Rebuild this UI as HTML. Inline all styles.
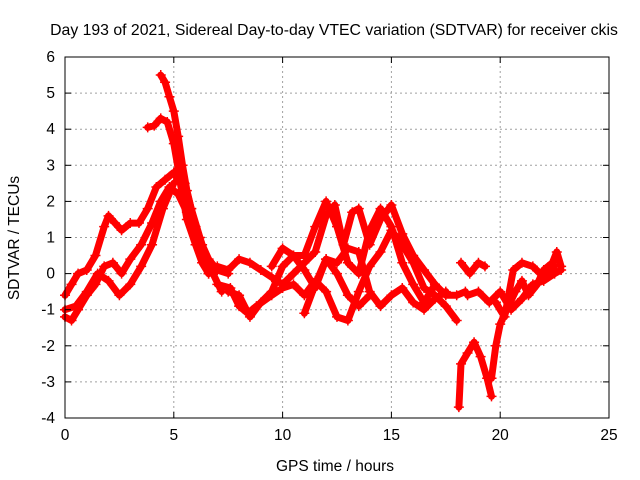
<!DOCTYPE html>
<html><head><meta charset="utf-8"><style>
body{margin:0;background:#fff;}
svg{display:block;font-family:"Liberation Sans",sans-serif;}
</style></head><body>
<svg id="chart" width="640" height="480">
<rect x="0" y="0" width="640" height="480" fill="#fff"/>
<g id="grid"></g>
<g id="series"></g>
<rect x="65" y="57" width="544" height="361" fill="none" stroke="#000" stroke-width="1"/>
<g id="axes"></g>
<text x="334" y="35" text-anchor="middle" font-size="15.8" fill="#000">Day 193 of 2021, Sidereal Day-to-day VTEC variation (SDTVAR) for receiver ckis</text>
<text x="335" y="471" text-anchor="middle" font-size="15.5" fill="#000">GPS time / hours</text>
<text x="19" y="238" text-anchor="middle" font-size="15.5" fill="#000" transform="rotate(-90 19 238)">SDTVAR / TECUs</text>
</svg>
<script>
const xTicks=[0,5,10,15,20,25];
const yTicks=[-4,-3,-2,-1,0,1,2,3,4,5,6];
const trackA=[[4.4,5.5],[4.6,5.3],[4.8,4.9],[5.0,4.5],[5.2,3.8],[5.4,3.0],[5.6,2.3],[5.8,1.8],[6.0,1.3],[6.3,0.8],[6.6,0.4],[7.0,0.1],[7.5,0.0]];
const trackB=[[3.8,4.05],[4.1,4.1],[4.4,4.3],[4.7,4.2],[5.0,3.6],[5.2,2.9],[5.5,2.5],[5.8,1.8],[6.2,1.0],[6.5,0.4],[6.8,0.0],[7.2,-0.5]];
const trackC=[[0,-0.6],[0.3,-0.3],[0.6,0.0],[1.0,0.1],[1.4,0.5],[1.8,1.3],[2.0,1.6],[2.3,1.4],[2.6,1.2],[3.0,1.4],[3.4,1.4],[3.8,1.8],[4.2,2.4],[4.6,2.6],[5.0,2.8],[5.3,2.5],[5.6,1.5],[6.0,0.8],[6.3,0.3],[6.6,0.0]];
const trackD=[[0,-1.2],[0.3,-1.3],[0.6,-1.0],[1.0,-0.6],[1.4,-0.3],[1.8,0.2],[2.2,0.3],[2.6,0.0],[3.0,0.4],[3.5,0.8],[4.0,1.4],[4.4,2.0],[4.8,2.4],[5.2,2.2],[5.6,1.7],[6.0,1.2]];
const trackE=[[0,-1.0],[0.5,-0.9],[1.0,-0.5],[1.5,0.0],[2.0,-0.2],[2.5,-0.6],[3.0,-0.3],[3.5,0.2],[4.0,0.8],[4.5,1.8],[5.0,2.5]];
const trackF=[[7.5,-0.5],[8.0,-0.6],[8.5,-1.2],[9.0,-0.8],[9.5,-0.5],[10,0.2],[10.5,0.5],[11,0.1],[11.5,-0.4],[12,0.4],[12.5,0.0],[13,-0.6],[13.5,-0.9],[14,-0.6]];
const trackG=[[6.6,0.0],[7,0.2],[7.5,0.1],[8,0.4],[8.5,0.3],[9,0.1],[9.5,-0.1],[10,-0.3],[10.5,0.0],[11,0.3],[11.5,0.6],[12,1.6],[12.4,1.9],[12.8,0.8],[13.2,1.7],[13.5,1.8],[14,0.8],[14.5,1.5],[15,1.9],[15.5,1.1],[16,0.5],[16.5,0.1],[17,-0.3],[17.5,-0.6],[18,-0.6],[18.4,-0.5]];
const trackH=[[7,-0.3],[7.6,-0.4],[8,-0.9],[8.4,-1.1],[8.8,-0.9],[9.5,-0.6],[10,-0.4],[10.5,-0.3],[11,-0.6],[11.5,-0.2],[12,-0.5],[12.5,-1.2],[13,-1.3],[13.5,-0.5],[14,0.2],[14.5,0.6],[15,1.2],[15.5,0.8],[16,0.3],[16.5,-0.4],[17,-0.6],[17.5,-0.9],[18,-1.3]];
const trackI=[[11,-1.1],[11.5,-0.3],[12,0.4],[12.5,0.3],[13,0.7],[13.5,0.6],[14,-0.5],[14.5,-0.9],[15,-0.6],[15.5,-0.4],[16,-0.8],[16.5,-1.0],[17,-0.7],[17.5,-0.5]];
const trackJ=[[9.5,0.2],[10,0.7],[10.5,0.5],[11,0.5],[11.5,1.3],[12,2.0],[12.5,1.3],[13,0.3],[13.5,0.0],[14,1.2],[14.5,1.8],[15,1.3],[15.5,0.3],[16,-0.3],[16.5,-0.8],[17,-0.3]];
const trackK=[[18.1,-3.7],[18.2,-2.5],[18.5,-2.2],[18.8,-1.9],[19.1,-2.3],[19.4,-2.9],[19.6,-3.4]];
const trackL=[[18.2,0.3],[18.6,0.0],[19,0.3],[19.3,0.2]];
const trackM=[[19.6,-2.9],[19.8,-2.0],[20,-1.4],[20.3,-1.0],[20.7,-0.5],[21,-0.2],[21.3,-0.6],[21.7,-0.3],[22,0.1],[22.4,0.3],[22.6,0.6],[22.8,0.2]];
const trackN=[[18.5,-0.6],[19,-0.5],[19.5,-0.8],[20,-0.5],[20.5,-1.0],[21,-0.7],[21.5,-0.3],[22,-0.2],[22.5,0.0],[22.8,0.1]];
const trackO=[[19.8,-0.8],[20.2,-1.2],[20.6,0.1],[21,0.3],[21.5,0.2],[22,-0.1],[22.5,0.2]];
const tracks=[trackA,trackB,trackC,trackD,trackE,trackF,trackG,trackH,trackI,trackJ,trackK,trackL,trackM,trackN,trackO];

const NS="http://www.w3.org/2000/svg";
const X0=65,X1=609,Y0=418,Y1=57;
function sx(v){return X0+(v-0)/(25-0)*(X1-X0);}
function sy(v){return Y0-(v-(-4))/(6-(-4))*(Y0-Y1);}
function mk(tag,attrs,parent){const e=document.createElementNS(NS,tag);for(const k in attrs)e.setAttribute(k,attrs[k]);parent.appendChild(e);return e;}
const grid=document.getElementById('grid'),axes=document.getElementById('axes'),ser=document.getElementById('series');
xTicks.forEach(t=>{
  const x=sx(t);
  if(t>0&&t<25){const g=mk('line',{x1:x,x2:x,y1:Y0,y2:Y1,stroke:'#a0a0a0','stroke-dasharray':'2,3'},grid);
  
  }
  mk('line',{x1:x,x2:x,y1:Y0,y2:Y0-6,stroke:'#000'},axes);
  mk('line',{x1:x,x2:x,y1:Y1,y2:Y1+6,stroke:'#000'},axes);
  const tx=mk('text',{x:x,y:Y0+22,'text-anchor':'middle','font-size':'15.5'},axes);
  tx.textContent=t;
  
  
});
yTicks.forEach(t=>{
  const y=sy(t);
  if(t>-4&&t<6){const g=mk('line',{x1:X0,x2:X1,y1:y,y2:y,stroke:'#a0a0a0','stroke-dasharray':'2,3'},grid);
  
  }
  mk('line',{x1:X0,x2:X0+6,y1:y,y2:y,stroke:'#000'},axes);
  mk('line',{x1:X1,x2:X1-6,y1:y,y2:y,stroke:'#000'},axes);
  const tx=mk('text',{x:X0-10,y:y+5,'text-anchor':'end','font-size':'15.5'},axes);
  tx.textContent=t;
  
  
});
tracks.forEach((tr,i)=>{
  const g=mk('g',{},ser);
  
  
  const pts=tr.map(p=>sx(p[0]).toFixed(1)+','+sy(p[1]).toFixed(1)).join(' ');
  mk('polyline',{points:pts,fill:'none',stroke:'#ff0000','stroke-width':'7','stroke-linejoin':'round','stroke-linecap':'round'},g);
  tr.forEach(p=>{
    const x=sx(p[0]),y=sy(p[1]);
    mk('path',{d:`M${x-5},${y}H${x+5}M${x},${y-5}V${y+5}`,stroke:'#ff0000','stroke-width':'1.5'},g);
  });
});
</script>
</body></html>
